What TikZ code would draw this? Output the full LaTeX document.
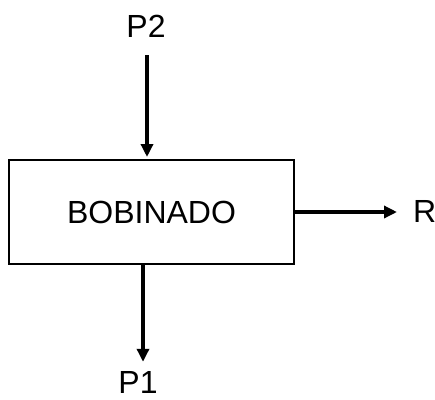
\documentclass[tikz,border=0pt]{standalone}
\usepackage{fontspec}
\setmainfont{Liberation Sans}
\usetikzlibrary{arrows.meta}

\begin{document}
\begin{tikzpicture}[x=1pt, y=-1pt,
  every node/.style={font=\fontsize{32}{38}\selectfont, inner sep=0pt},
  flow/.style={-{Triangle[length=13pt, width=12pt]}, line width=3.6pt}]
  \useasboundingbox (0,0) rectangle (435,399);

  %% Process block
  \node[draw, line width=2pt, minimum width=285pt, minimum height=104pt]
    (box) at (151.5,212) {BOBINADO};

  %% Stream labels
  \node[anchor=base] (p2) at (146,37) {P2};
  \node[anchor=base] (p1) at (138,393) {P1};
  \node[anchor=base west] (r) at (413,222) {R};

  %% Streams
  \draw[flow, shorten <=18pt, shorten >=2pt] ([xshift=1pt]p2.south) -- (box.north -| 147,0);
  \draw[flow, shorten >=9pt] (box.south -| 143,0) -- ([xshift=5pt]p1.north);
  \draw[flow] (box.east |- 0,212) -- ([xshift=-16pt]r.west |- 0,212);
\end{tikzpicture}
\end{document}
